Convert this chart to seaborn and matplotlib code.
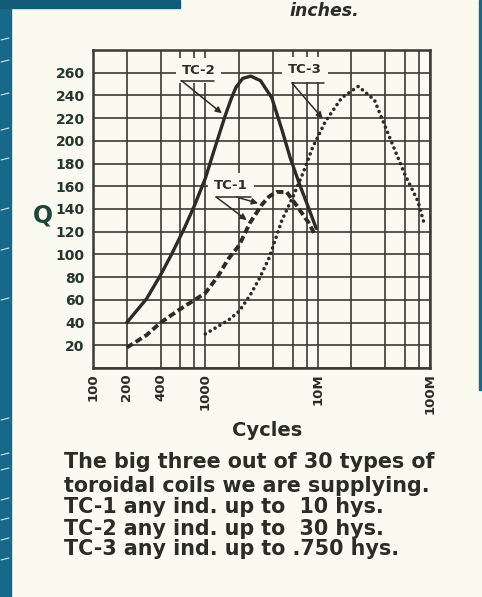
import matplotlib
matplotlib.use("Agg")
import matplotlib.pyplot as plt
from matplotlib.patches import Rectangle
import pandas as pd
import seaborn as sns

# Q against frequency (cycles) for the three toroidal coils
tc1_cycles = [200, 300, 400, 600, 1000, 1300, 1600, 2000, 2500, 3200, 3700, 4300, 5300,
              6500, 8300, 9500]
tc1_q = [18, 29, 40, 52, 66, 81, 96, 108, 128, 144, 151, 155, 155, 143, 128, 117]

tc2_cycles = [200, 300, 400, 500, 650, 800, 1000, 1200, 1500, 1700, 1870, 2150, 2540,
              3100, 3900, 4800, 5700, 7000, 7800, 9700]
tc2_q = [40, 61, 82, 100, 123, 143, 167, 192, 222, 237, 247, 255, 257,
         253, 238, 210, 185, 160, 148, 123]

tc3_cycles = [1000, 1600, 2000, 2500, 3000, 3700, 4800, 6100, 7500, 9000, 11700, 16400,
              23000, 32000, 45000, 60000, 78000, 90000]
tc3_q = [30, 42, 50, 64, 78, 97, 130, 152, 173, 194, 217, 238, 248, 236, 200, 170, 147, 125]

# chart grid and axis labels
grid_cycles = [100, 200, 400, 600, 800, 1000, 2000, 4000, 6000, 8000,
               10000, 20000, 40000, 60000, 80000, 100000]
labelled_cycles = {100: "100", 200: "200", 400: "400", 1000: "1000",
                   10000: "10M", 100000: "100M"}
q_ticks = list(range(0, 281, 20))

caption_lines = [
    "The big three out of 30 types of",
    "toroidal coils we are supplying.",
    "TC-1 any ind. up to  10 hys.",
    "TC-2 any ind. up to  30 hys.",
    "TC-3 any ind. up to .750 hys.",
]

INK = "#2a2c25"
PAPER = "#fafaf0"
TEAL = "#17698a"

sns.set_theme(style="white")
plt.rcParams["font.family"] = ["DejaVu Sans"]
plt.rcParams["font.weight"] = "bold"

W, H = 482, 597
fig = plt.figure(figsize=(W / 100, H / 100), dpi=100, facecolor=PAPER)


def px(x, y):
    """pixel position (from top-left) to figure fraction"""
    return x / W, 1 - y / H


# page edges of the magazine
fig.patches.append(Rectangle((0, 0), 11 / W, 1, transform=fig.transFigure,
                             color=TEAL, zorder=0))
for yy in [40, 62, 95, 130, 160, 210, 250, 300, 420, 455, 470, 500, 520, 540, 560]:
    fig.lines.append(plt.Line2D([1 / W, 9 / W], [1 - yy / H, 1 - (yy - 2) / H],
                                transform=fig.transFigure, color="#cfe6ee", lw=0.8))
fig.patches.append(Rectangle(px(0, 8), 180 / W, 8 / H, transform=fig.transFigure,
                             color="#125c77", zorder=0))
fig.patches.append(Rectangle(px(479, 390), 3 / W, 390 / H, transform=fig.transFigure,
                             color=TEAL, zorder=0))
fig.text(*px(289, 16), "inches.", fontsize=12.5, style="italic", weight="bold",
         color=INK, va="baseline", ha="left")

ax = fig.add_axes([93 / W, 1 - 368 / H, 337 / W, 318 / H])
ax.set_facecolor(PAPER)

df1 = pd.DataFrame({"cycles": tc1_cycles, "Q": tc1_q})
df2 = pd.DataFrame({"cycles": tc2_cycles, "Q": tc2_q})
df3 = pd.DataFrame({"cycles": tc3_cycles, "Q": tc3_q})

sns.lineplot(data=df2, x="cycles", y="Q", ax=ax, color=INK, lw=2.4,
             solid_capstyle="round", solid_joinstyle="round", zorder=4)
sns.lineplot(data=df1, x="cycles", y="Q", ax=ax, color=INK, lw=2.8,
             linestyle=(0, (1.8, 0.9)), dash_capstyle="butt", zorder=4)
sns.lineplot(data=df3, x="cycles", y="Q", ax=ax, color=INK, lw=2.6,
             linestyle=(0, (0.01, 1.55)), dash_capstyle="round", zorder=4)

ax.set_xscale("log")
ax.set_xlim(100, 100000)
ax.set_ylim(0, 280)
ax.set_xticks(grid_cycles)
ax.set_xticklabels([labelled_cycles.get(c, "") for c in grid_cycles],
                   rotation=90, fontsize=9.5, weight="bold", color=INK)
ax.xaxis.set_minor_locator(matplotlib.ticker.NullLocator())
ax.set_yticks(q_ticks)
ax.set_yticklabels(["" if q in (0, 280) else str(q) for q in q_ticks],
                   fontsize=10, weight="bold", color="#25362d")
ax.tick_params(axis="both", length=0)
ax.tick_params(axis="y", pad=6)
ax.tick_params(axis="x", pad=4)
ax.grid(True, color="#3a3b33", lw=1.2)
for s in ax.spines.values():
    s.set_color("#3a3b33")
    s.set_linewidth(1.8)
ax.set_axisbelow(True)

ax.set_xlabel("Cycles", fontsize=14, weight="bold", color=INK, va="center")
ax.xaxis.set_label_coords((267 - 93) / 337, (368 - 430) / 318)
ax.set_ylabel("Q", fontsize=17, weight="bold", color="#22473a", rotation=0,
              va="center", ha="center")
ax.yaxis.set_label_coords((43 - 93) / 337, (368 - 216) / 318)

# curve labels with leader lines and arrows
label_box = dict(boxstyle="square,pad=0.45", fc=PAPER, ec="none")
arrow = dict(arrowstyle="-|>", color=INK, lw=1.1, mutation_scale=9,
             shrinkA=0, shrinkB=3)


def curve_label(text, pos, leader_y, leader_x, targets):
    ax.text(*pos, text, fontsize=9.5, weight="bold", color=INK,
            ha="center", va="center", bbox=label_box, zorder=3)
    ax.plot(leader_x, [leader_y, leader_y], color=INK, lw=1.1, zorder=3)
    for start, tgt in targets:
        ax.annotate("", xy=tgt, xytext=(start, leader_y), arrowprops=arrow, zorder=5)


curve_label("TC-2", (870, 262), 253, [613, 1200],
            [(613, (tc2_cycles[8], tc2_q[8]))])
curve_label("TC-3", (7700, 262.5), 251, [5900, 11300],
            [(5900, (tc3_cycles[10], tc3_q[10]))])
curve_label("TC-1", (1700, 160.5), 150.5, [1250, 2550],
            [(1250, (tc1_cycles[8], tc1_q[8])),
             (1900, (tc1_cycles[9], tc1_q[9]))])

# caption
for line, base in zip(caption_lines, [468, 492, 513, 535, 555]):
    fig.text(*px(64, base), line, fontsize=14.9, weight="bold", color=INK,
             ha="left", va="baseline")

fig.savefig("out.png", dpi=100, facecolor=PAPER)
